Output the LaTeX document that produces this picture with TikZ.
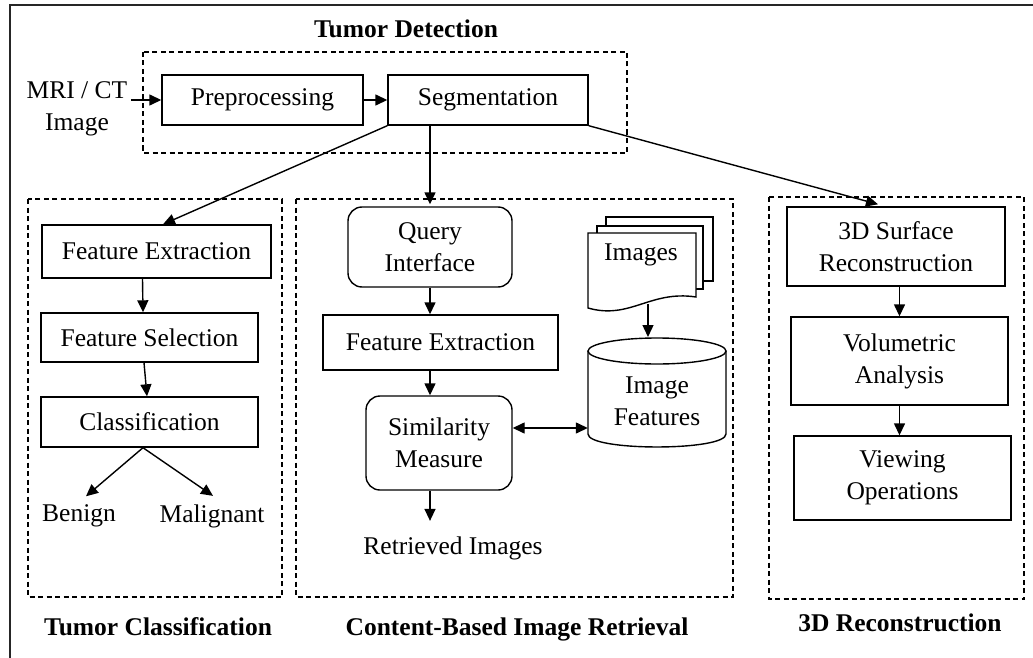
\documentclass[tikz,border=0pt]{standalone}
\usepackage{fontspec}
\setmainfont{Liberation Serif}
\usetikzlibrary{arrows.meta,calc}
\begin{document}
\begin{tikzpicture}[x=1pt,y=-1pt,
  every node/.style={font=\fontsize{25.5}{32}\selectfont},
  box/.style={draw, line width=1.4pt, inner sep=2pt, align=center},
  rbox/.style={box, rounded corners=14pt},
  group/.style={draw, line width=1.2pt, dash pattern=on 5pt off 3.5pt},
  shapeline/.style={line width=1.4pt},
  arr/.style={line width=1.4pt, -{Triangle[length=12pt,width=11pt]}},
  arrs/.style={line width=1.4pt, {Triangle[length=12pt,width=11pt]}-{Triangle[length=12pt,width=11pt]}},
  heading/.style={font=\fontsize{25.5}{30}\selectfont\bfseries},
  plain/.style={align=center}]
\useasboundingbox (0,0) rectangle (1033,658);

% page frame (left and top edges)
\draw[line width=2pt, black!85] (9.5,658) -- (9.5,5.5) -- (1033,5.5);

% ---------- Tumor detection ----------
\node[heading] (tdh) at (406,29) {Tumor Detection};
\draw[group] (143,52) rectangle (627,153);
\node[plain] (mri) at (77,109) {MRI / CT\\Image};
\node[box, minimum width=201pt, minimum height=50pt] (pre) at (262.5,100) {Preprocessing};
\node[box, minimum width=200pt, minimum height=50pt] (seg) at (488,100) {Segmentation};
\draw[arr] (mri.east |- pre.west) -- (pre.west);
\draw[arr] (pre.east) -- (seg.west);

% ---------- Tumor classification ----------
\draw[group] (28,199) rectangle (282,597);
\node[box, minimum width=229pt, minimum height=53pt] (fe1) at (156.5,251.5) {Feature Extraction};
\node[box, minimum width=217pt, minimum height=49pt] (fs) at (149.5,337.5) {Feature Selection};
\node[box, minimum width=217pt, minimum height=50pt] (cl) at (149.5,422) {Classification};
\node[plain] (ben) at (79,516) {Benign};
\node[plain] (mal) at (212,516) {Malignant};
\node[heading] (tch) at (158,627) {Tumor Classification};
\draw[arr] ([xshift=-14pt]fe1.south) -- ([xshift=-6.5pt]fs.north);
\draw[arr] ([xshift=-5.5pt]fs.south) -- ([xshift=-2.5pt]cl.north);
\draw[arr] ([xshift=-6.5pt]cl.south) -- ([xshift=7pt,yshift=5pt]ben.north);
\draw[arr] ([xshift=-6.5pt]cl.south) -- ([xshift=1pt,yshift=5pt]mal.north);

% ---------- Content-based image retrieval ----------
\draw[group] (296,199) rectangle (733,597);
\node[rbox, minimum width=164pt, minimum height=80pt] (qi) at (430,247) {Query\\Interface};
\node[box, minimum width=235pt, minimum height=55pt] (fe2) at (440.5,342.5) {Feature Extraction};
\node[rbox, minimum width=146pt, minimum height=94pt] (sm) at (439,443) {Similarity\\Measure};
\node[plain] (ret) at (453,548) {Retrieved Images};
\node[heading] (cbh) at (517,629) {Content-Based Image Retrieval};
\draw[arr] (qi.south) -- (qi.south |- fe2.north);
\draw[arr] (fe2.south -| qi.south) -- (sm.north -| qi.south);
\draw[arr, shorten >=12pt] (sm.south -| qi.south) -- (ret.north -| qi.south);

% stack of image documents
\draw[shapeline, fill=white] (606,217) rectangle (713,281);
\draw[shapeline, fill=white] (597,226) rectangle (703,289);
\draw[shapeline, fill=white] (588,233) -- (696,233) -- (696,297)
  .. controls (650,290) and (630,320) .. (588,308) -- cycle;
\node[plain] (imgs) at (641,255) {Images};
\coordinate (docw) at (648,304);
\coordinate (cyltop) at (648,337);

% image feature database
\draw[shapeline, fill=white] (588,351) -- (588,434)
  .. controls (588,451.3) and (726,451.3) .. (726,434) -- (726,351);
\draw[shapeline] (657,351) ellipse [x radius=69, y radius=13];
\node[plain, minimum width=138pt, minimum height=96pt, inner sep=0pt] (imf) at (657,401) {Image\\Features};
\draw[arr] (docw) -- (cyltop);
\draw[arrs] ([yshift=15pt]sm.east) -- ([yshift=15pt]sm.east -| imf.west);

% ---------- 3D reconstruction ----------
\draw[group] (769,197) rectangle (1024,599);
\node[box, minimum width=218pt, minimum height=79pt] (sr) at (896,246.5) {3D Surface\\Reconstruction};
\node[box, minimum width=217pt, minimum height=88pt] (va) at (899.5,361) {Volumetric\\Analysis};
\node[box, minimum width=217pt, minimum height=84pt] (vo) at (902.5,478) {Viewing\\Operations};
\node[heading] (rch) at (900,623) {3D Reconstruction};
\draw[arr] (sr.south -| va.north) -- (va.north);
\draw[arr] (va.south) -- (va.south |- vo.north);

% ---------- links from segmentation ----------
\draw[arr] (seg.south west) -- ([xshift=6.5pt]fe1.north);
\draw[arr] (seg.south -| qi.north) -- ([yshift=2pt]qi.north);
\draw[arr] (seg.south east) -- ([xshift=-18pt,yshift=2pt]sr.north);
\end{tikzpicture}
\end{document}
